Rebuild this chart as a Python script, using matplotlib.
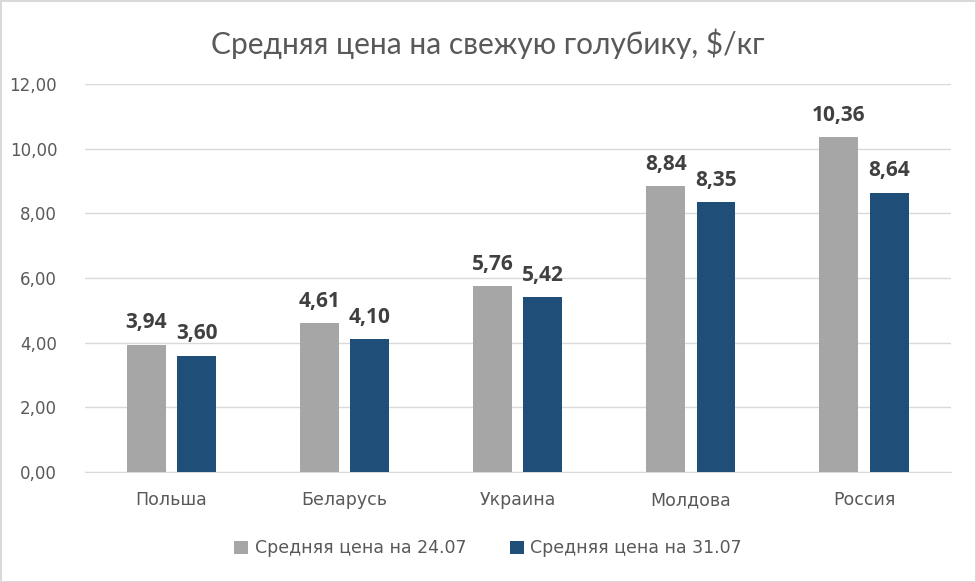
import matplotlib
matplotlib.use("Agg")
import matplotlib.pyplot as plt
import numpy as np

categories = ["Польша", "Беларусь", "Украина", "Молдова", "Россия"]
series_names = ["Средняя цена на 24.07", "Средняя цена на 31.07"]
values_2407 = [3.94, 4.61, 5.76, 8.84, 10.36]
values_3107 = [3.60, 4.10, 5.42, 8.35, 8.64]
yticks = [0, 2, 4, 6, 8, 10, 12]

plt.rcParams['font.family'] = ['DejaVu Sans']

fig = plt.figure(figsize=(9.76, 5.82), dpi=100)
fig.patch.set_facecolor("white")
fig.patch.set_edgecolor("#d9d9d9")
fig.patch.set_linewidth(2)

ax = fig.add_axes([0.087, 0.189, 0.887, 0.667])
x = np.arange(len(categories))
w = 0.225
off = 0.145
b1 = ax.bar(x - off, values_2407, w, color="#a6a6a6", label=series_names[0], zorder=3)
b2 = ax.bar(x + off, values_3107, w, color="#1f4e79", label=series_names[1], zorder=3)

def fmt(v):
    return f"{v:.2f}".replace(".", ",")

for bars, vals in ((b1, values_2407), (b2, values_3107)):
    for rect, v in zip(bars, vals):
        ax.annotate(fmt(v), (rect.get_x() + rect.get_width() / 2, v),
                    xytext=(0, 8), textcoords="offset points",
                    ha="center", va="bottom", fontsize=15, fontweight="bold",
                    color="#404040", family=["Open Sans", "DejaVu Sans"])

ax.set_xlim(-0.5, len(categories) - 0.5)
ax.set_ylim(0, 12)
ax.set_yticks(yticks)
ax.set_yticklabels([fmt(t) for t in yticks], fontsize=12, color="#595959")
ax.set_xticks(x)
ax.set_xticklabels(categories, fontsize=12.5, color="#595959")
ax.tick_params(axis="both", length=0)
ax.tick_params(axis="x", pad=14)
ax.tick_params(axis="y", pad=20)
ax.grid(axis="y", color="#d9d9d9", linewidth=1, zorder=0)
for s in ["top", "right", "left"]:
    ax.spines[s].set_visible(False)
ax.spines["bottom"].set_color("#d9d9d9")

fig.text(0.5, 0.925, "Средняя цена на свежую голубику, $/кг", ha="center", va="center",
         fontsize=21.5, color="#595959", family=["Lato", "DejaVu Sans"])

fig.legend(loc="center", bbox_to_anchor=(0.5, 0.058), ncol=2, frameon=False,
           fontsize=12.5, handlelength=0.8, handleheight=0.8, columnspacing=2.5,
           handletextpad=0.4, labelcolor="#595959")

fig.savefig("out.png", dpi=100, facecolor=fig.get_facecolor(), edgecolor=fig.get_edgecolor())
